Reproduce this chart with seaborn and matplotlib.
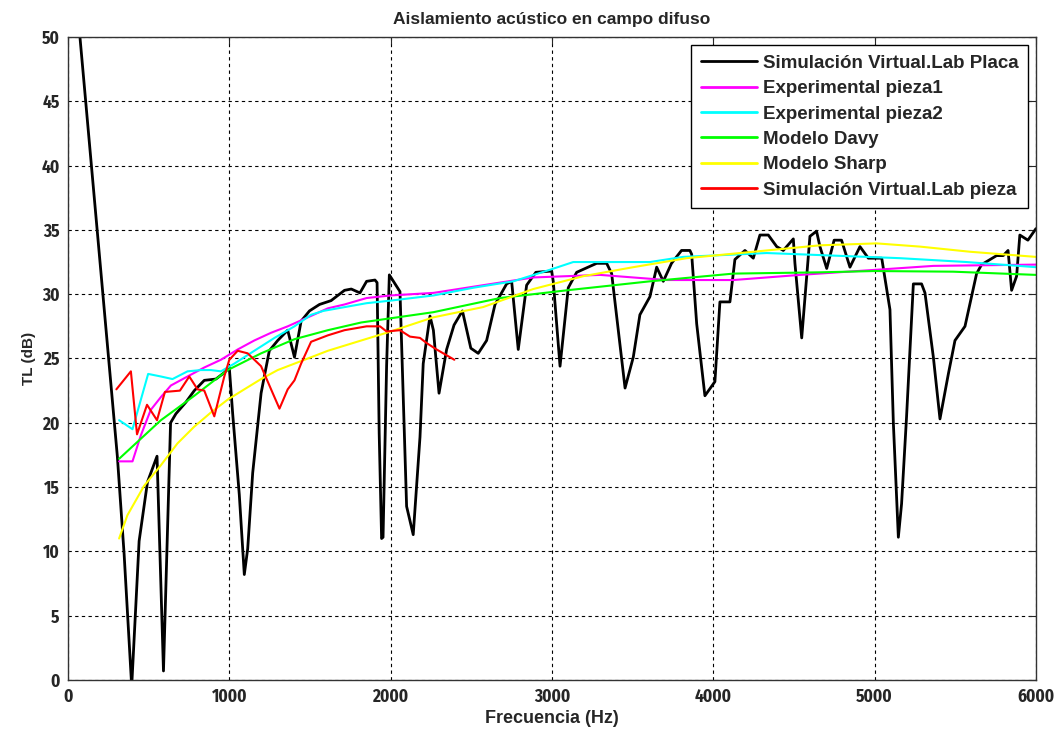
import pandas as pd
import seaborn as sns
import matplotlib.pyplot as plt
from matplotlib import font_manager
from matplotlib.font_manager import FontProperties

# Simulación Virtual.Lab Placa
placa_f = [60, 306, 348, 395, 441, 493, 552, 592, 636, 669, 731, 783, 845, 917, 969, 1000,
           1021, 1062, 1093, 1114, 1145, 1197, 1248, 1300, 1362, 1404, 1445, 1497, 1559, 1631,
           1714, 1756, 1810, 1851, 1903, 1916, 1929, 1944, 1953, 1975, 1992, 2058, 2099, 2140,
           2182, 2202, 2244, 2265, 2300, 2347, 2393, 2445, 2497, 2543, 2595, 2647, 2719, 2750,
           2791, 2843, 2900, 2998, 3008, 3050, 3101, 3153, 3277, 3339, 3370, 3453, 3504, 3545,
           3607, 3649, 3690, 3741, 3803, 3855, 3866, 3897, 3948, 4010, 4041, 4103, 4134, 4196,
           4248, 4289, 4341, 4393, 4434, 4496, 4506, 4548, 4599, 4640, 4661, 4703, 4749, 4795,
           4847, 4909, 4961, 5044, 5095, 5116, 5147, 5167, 5198, 5240, 5291, 5312, 5364, 5405,
           5457, 5498, 5560, 5632, 5663, 5756, 5797, 5827, 5849, 5880, 5900, 5950, 6000]
placa_tl = [52.0, 17.4, 9.8, -0.5, 10.8, 15.4, 17.4, 0.7, 20.0, 20.7, 21.6, 22.5, 23.3, 23.4,
            23.9, 24.3, 20.7, 14.4, 8.2, 10.2, 16.1, 22.3, 25.6, 26.4, 27.2, 25.1, 27.9, 28.7,
            29.2, 29.5, 30.3, 30.4, 30.1, 31.0, 31.1, 30.9, 19.2, 11.0, 11.1, 24.4, 31.5, 30.2,
            13.5, 11.3, 18.9, 24.6, 28.3, 27.2, 22.3, 25.7, 27.6, 28.7, 25.8, 25.4, 26.4, 29.2,
            30.8, 31.0, 25.7, 30.7, 31.7, 31.8, 31.0, 24.4, 30.5, 31.7, 32.4, 32.4, 31.6, 22.7,
            25.1, 28.4, 29.8, 32.1, 31.0, 32.4, 33.4, 33.4, 33.1, 27.7, 22.1, 23.2, 29.4, 29.4,
            32.7, 33.4, 32.8, 34.6, 34.6, 33.7, 33.4, 34.3, 32.4, 26.6, 34.5, 34.9, 33.7, 32.0,
            34.2, 34.2, 32.1, 33.7, 32.8, 32.8, 28.8, 20.0, 11.1, 13.7, 20.5, 30.8, 30.8, 30.1,
            25.1, 20.3, 23.8, 26.4, 27.5, 31.6, 32.3, 33.0, 33.0, 33.4, 30.3, 31.4, 34.6, 34.2,
            35.1]

# Experimental pieza1
pieza1_f = [317, 400, 451, 513, 576, 638, 741, 845, 948, 1052, 1155, 1259, 1362, 1487, 1611,
            1714, 1851, 2000, 2265, 2574, 2884, 3298, 3607, 3711, 4124, 4537, 5012, 5364, 6000]
pieza1_tl = [17.0, 17.0, 19.0, 21.0, 22.0, 22.9, 23.6, 24.3, 24.9, 25.7, 26.4, 27.0, 27.5,
             28.2, 28.9, 29.2, 29.7, 29.9, 30.1, 30.7, 31.3, 31.5, 31.2, 31.1, 31.1, 31.5,
             31.9, 32.2, 32.3]

# Experimental pieza2
pieza2_f = [317, 400, 497, 576, 648, 741, 824, 886, 948, 1031, 1155, 1280, 1404, 1507, 1583,
            1851, 2000, 2265, 2512, 2760, 2988, 3132, 3607, 3814, 4331, 4744, 5157, 5570, 6000]
pieza2_tl = [20.2, 19.5, 23.8, 23.6, 23.4, 24.0, 24.1, 24.1, 24.0, 24.6, 25.6, 26.6, 27.5,
             28.4, 28.7, 29.3, 29.5, 29.9, 30.5, 31.0, 31.9, 32.5, 32.5, 32.9, 33.2, 33.0,
             32.8, 32.5, 32.1]

# Modelo Davy
davy_f = [317, 576, 783, 990, 1197, 1404, 1611, 1818, 2265, 2678, 3091, 3607, 4124, 4661,
          5000, 5487, 6000]
davy_tl = [17.2, 20.2, 22.1, 24.1, 25.4, 26.5, 27.2, 27.8, 28.6, 29.7, 30.3, 31.0, 31.6,
           31.7, 31.8, 31.75, 31.5]

# Modelo Sharp
sharp_f = [317, 368, 472, 576, 679, 783, 886, 990, 1093, 1197, 1300, 1404, 1611, 1818, 1975,
           2265, 2574, 2884, 3194, 3504, 3835, 4248, 4661, 5012, 5281, 5591, 6000]
sharp_tl = [11.0, 12.8, 15.1, 16.7, 18.4, 19.7, 20.8, 21.8, 22.6, 23.4, 24.1, 24.6, 25.6,
            26.4, 27.0, 28.2, 29.0, 30.4, 31.4, 32.1, 32.8, 33.3, 33.8, 33.95, 33.7, 33.3, 32.9]

# Simulación Virtual.Lab pieza
vlab_f = [300, 390, 428, 490, 552, 601, 694, 752, 803, 845, 907, 969, 1000, 1052, 1114, 1197,
          1259, 1311, 1362, 1404, 1445, 1507, 1611, 1714, 1851, 1934, 1975, 2058, 2120, 2182,
          2223, 2285, 2340, 2395]
vlab_tl = [22.6, 24.0, 19.1, 21.4, 20.2, 22.4, 22.5, 23.6, 22.6, 22.5, 20.5, 23.6, 24.9, 25.6,
           25.4, 24.4, 22.6, 21.1, 22.6, 23.3, 24.6, 26.3, 26.8, 27.2, 27.5, 27.5, 27.1, 27.2,
           26.7, 26.6, 26.2, 25.7, 25.3, 24.9]

series = ["Simulación Virtual.Lab Placa", "Experimental pieza1", "Experimental pieza2",
          "Modelo Davy", "Modelo Sharp", "Simulación Virtual.Lab pieza"]
colors = ["black", "#ff00ff", "#00ffff", "#00ff00", "#ffff00", "#ff0000"]
widths = [2.0, 1.5, 1.5, 1.5, 1.5, 1.5]

data = [(placa_f, placa_tl), (pieza1_f, pieza1_tl), (pieza2_f, pieza2_tl),
        (davy_f, davy_tl), (sharp_f, sharp_tl), (vlab_f, vlab_tl)]
df = pd.concat([pd.DataFrame({"f": f, "tl": tl, "serie": name})
                for name, (f, tl) in zip(series, data)], ignore_index=True)

sns.set_style("white")
plt.rcParams["font.family"] = ["Liberation Sans", "DejaVu Sans"]

# narrow bold face for the tick numbers, like the MATLAB screen font
cond = [p for p in font_manager.findSystemFonts() if "SansCondensed-Bold." in p
        or "SansNarrow-Bold." in p]
if cond:
    tick_prop = FontProperties(fname=cond[0], size=12.5)
else:
    tick_prop = FontProperties(family="Liberation Sans", weight="bold", size=12)

fig = plt.figure(figsize=(10.57, 7.31), dpi=100)
ax = fig.add_axes([0.0643, 0.0698, 0.9158, 0.8796])

for name, color, lw in zip(series, colors, widths):
    sns.lineplot(data=df[df["serie"] == name], x="f", y="tl", color=color, linewidth=lw,
                 estimator=None, sort=False, label=name, ax=ax)

ax.set_xlim(0, 6000)
ax.set_ylim(0, 50)
ax.set_xticks(range(0, 6001, 1000))
ax.set_yticks(range(0, 51, 5))
ax.grid(True, color="black", linestyle=(0, (3, 3)), linewidth=0.8)
ax.tick_params(direction="in", top=True, right=True, length=5, width=0.8, pad=6)
for lab in ax.get_xticklabels() + ax.get_yticklabels():
    lab.set_fontproperties(tick_prop)
for sp in ax.spines.values():
    sp.set_color("#333333")
    sp.set_linewidth(1.0)

ax.set_title("Aislamiento acústico en campo difuso", fontsize=12.5, fontweight="bold", pad=9)
ax.set_xlabel("Frecuencia (Hz)", fontsize=13, fontweight="bold", labelpad=3)
ax.set_ylabel("TL (dB)", fontsize=11, fontweight="bold", labelpad=4)

leg = ax.legend(loc="upper right", prop={"weight": "bold", "size": 13.5},
                frameon=True, fancybox=False, edgecolor="black", framealpha=1,
                handlelength=3.0, handletextpad=0.3, borderaxespad=0.45, labelspacing=0.44,
                borderpad=0.5)
leg.get_frame().set_linewidth(1.0)
for line in leg.get_lines():
    line.set_linewidth(2.0)

fig.savefig("out.png", dpi=100)
